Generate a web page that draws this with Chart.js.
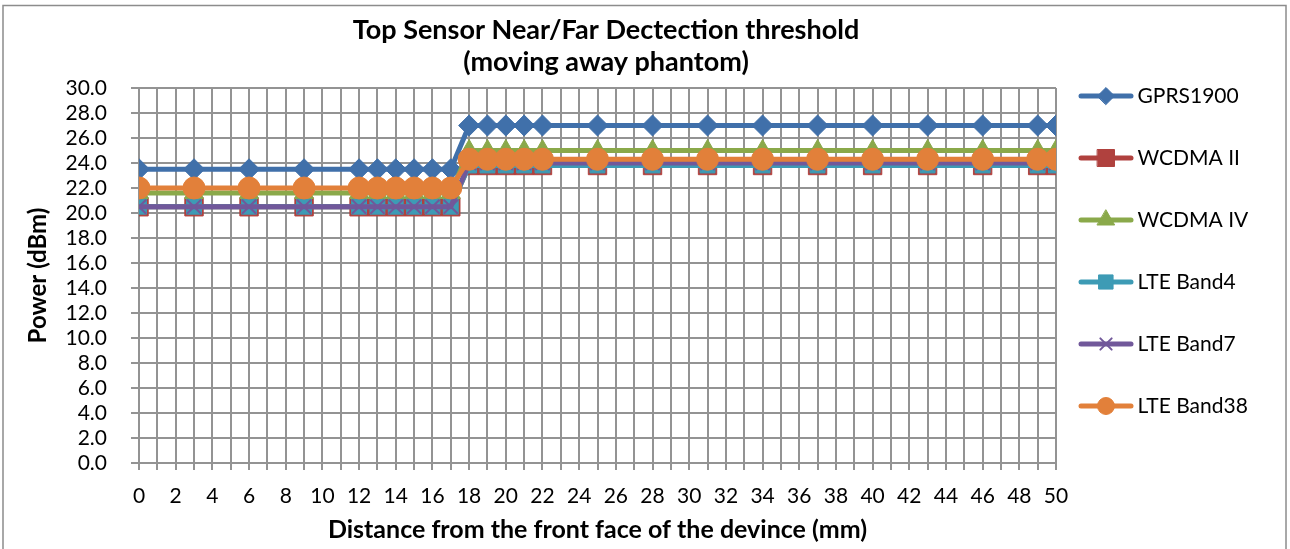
<!DOCTYPE html>
<html><head><meta charset="utf-8">
<script src="https://cdn.jsdelivr.net/npm/chart.js@4.4.1/dist/chart.umd.min.js"></script>
<style>html,body{margin:0;padding:0;background:#fff}#wrap{width:1290px;height:549px}</style>
</head><body><div id="wrap"><canvas id="c" width="1290" height="549"></canvas></div>
<script>
// ---- data ----
const distances = [0, 3, 6, 9, 12, 13, 14, 15, 16, 17, 18, 19, 20, 21, 22, 25, 28, 31, 34, 37, 40, 43, 46, 49, 50];
const seriesNames = ['GPRS1900', 'WCDMA II', 'WCDMA IV', 'LTE Band4', 'LTE Band7', 'LTE Band38'];
const gprs1900  = [23.5, 23.5, 23.5, 23.5, 23.5, 23.5, 23.5, 23.5, 23.5, 23.5, 27.0, 27.0, 27.0, 27.0, 27.0, 27.0, 27.0, 27.0, 27.0, 27.0, 27.0, 27.0, 27.0, 27.0, 27.0];
const wcdmaII   = [20.5, 20.5, 20.5, 20.5, 20.5, 20.5, 20.5, 20.5, 20.5, 20.5, 23.8, 23.8, 23.8, 23.8, 23.8, 23.8, 23.8, 23.8, 23.8, 23.8, 23.8, 23.8, 23.8, 23.8, 23.8];
const wcdmaIV   = [21.6, 21.6, 21.6, 21.6, 21.6, 21.6, 21.6, 21.6, 21.6, 21.6, 25.0, 25.0, 25.0, 25.0, 25.0, 25.0, 25.0, 25.0, 25.0, 25.0, 25.0, 25.0, 25.0, 25.0, 25.0];
const lteBand4  = [20.5, 20.5, 20.5, 20.5, 20.5, 20.5, 20.5, 20.5, 20.5, 20.5, 23.8, 23.8, 23.8, 23.8, 23.8, 23.8, 23.8, 23.8, 23.8, 23.8, 23.8, 23.8, 23.8, 23.8, 23.8];
const lteBand7  = [20.5, 20.5, 20.5, 20.5, 20.5, 20.5, 20.5, 20.5, 20.5, 20.5, 24.0, 24.0, 24.0, 24.0, 24.0, 24.0, 24.0, 24.0, 24.0, 24.0, 24.0, 24.0, 24.0, 24.0, 24.0];
const lteBand38 = [22.0, 22.0, 22.0, 22.0, 22.0, 22.0, 22.0, 22.0, 22.0, 22.0, 24.3, 24.3, 24.3, 24.3, 24.3, 24.3, 24.3, 24.3, 24.3, 24.3, 24.3, 24.3, 24.3, 24.3, 24.3];
const allSeries = [gprs1900, wcdmaII, wcdmaIV, lteBand4, lteBand7, lteBand38];
const xMin = 0, xMax = 50, xStep = 1, xLabelEvery = 2;
const yMin = 0, yMax = 30, yStep = 2;
const chartTitle = ['Top Sensor Near/Far Dectection threshold', '(moving away phantom)'];
const xTitle = 'Distance from the front face of the devince (mm)';
const yTitle = 'Power (dBm)';

// ---- styles ----
const FONT = 'Lato';
const colors = ['#4070AA', '#B0413E', '#8AA94A', '#3D9BB5', '#71589A', '#E2803A'];
const markers = [
  {style: 'rectRot', r: 10.5, lr: 8.5},
  {style: 'rect', r: 13, lr: 12},
  {style: 'triangle', r: 11, lr: 10},
  {style: 'rect', r: 10.5, lr: 10},
  {style: 'crossRot', r: 10, lr: 8},
  {style: 'circle', r: 11, lr: 8.5}
];

function legendIcon(i) {
  const c = document.createElement('canvas');
  c.width = 68; c.height = 26;
  const ctx = c.getContext('2d');
  ctx.strokeStyle = colors[i]; ctx.fillStyle = colors[i];
  ctx.lineWidth = 5; ctx.lineCap = 'round';
  ctx.beginPath(); ctx.moveTo(3, 13); ctx.lineTo(53, 13); ctx.stroke();
  const m = markers[i];
  ctx.lineWidth = m.style === 'crossRot' ? 2 : 1;
  Chart.helpers.drawPoint(ctx, {pointStyle: m.style, radius: m.lr, borderWidth: ctx.lineWidth, rotation: 0}, 28, 13);
  return c;
}

const gridColor = '#939393';
const datasets = seriesNames.map((name, i) => ({
  label: name,
  data: distances.map((d, k) => ({x: d, y: allSeries[i][k]})),
  borderColor: colors[i],
  backgroundColor: colors[i],
  borderWidth: 5,
  borderJoinStyle: 'round',
  borderCapStyle: 'round',
  pointStyle: markers[i].style,
  pointRadius: markers[i].r,
  pointBorderWidth: markers[i].style === 'crossRot' ? 2 : 1,
  pointBorderColor: colors[i],
  pointBackgroundColor: colors[i],
  tension: 0,
  order: seriesNames.length - i
}));

const framePlugin = {
  id: 'frame',
  beforeDraw(chart) {
    const ctx = chart.ctx;
    ctx.save();
    ctx.fillStyle = '#fff';
    ctx.fillRect(0, 0, chart.width, chart.height);
    ctx.strokeStyle = '#8c8c8c';
    ctx.lineWidth = 1.5;
    ctx.strokeRect(3, 5.5, 1283, 600);
    ctx.restore();
  },
  afterLayout(chart) {
    // let the legend box reach the right edge so its labels are not clipped
    const lg = chart.legend;
    if (lg) { lg.right = chart.width; lg.width = lg.right - lg.left; }
  }
};

new Chart(document.getElementById('c'), {
  type: 'line',
  data: {datasets},
  plugins: [framePlugin],
  options: {
    responsive: false,
    animation: false,
    devicePixelRatio: 1,
    layout: {padding: {left: 6, right: 84, top: 0, bottom: 0}},
    plugins: {
      tooltip: {enabled: false},
      title: {
        display: true,
        text: chartTitle,
        color: '#000',
        font: {family: FONT, size: 27, weight: 'bold', lineHeight: 1.2},
        padding: {top: 13.8, bottom: 9.4}
      },
      legend: {
        position: 'right',
        align: 'start',
        maxWidth: 150,
        title: {display: true, text: '', font: {size: 10, lineHeight: 1.2}, padding: {top: 32.5, bottom: 0}},
        labels: {
          color: '#000',
          font: {family: FONT, size: 21},
          usePointStyle: true,
          pointStyleWidth: 30,
          padding: 41,
          sort: (a, b) => a.datasetIndex - b.datasetIndex,
          generateLabels(chart) {
            const items = Chart.defaults.plugins.legend.labels.generateLabels(chart);
            items.forEach(it => { it.pointStyle = legendIcon(it.datasetIndex); });
            return items;
          }
        }
      }
    },
    scales: {
      x: {
        type: 'linear',
        min: xMin, max: xMax,
        afterFit(s) { s.height = 86; },
        border: {color: gridColor, width: 2},
        grid: {color: gridColor, lineWidth: 2, tickLength: 7, tickColor: gridColor},
        ticks: {
          stepSize: xStep, autoSkip: false, maxRotation: 0, padding: 14,
          color: '#000', font: {family: FONT, size: 21},
          callback: v => (v % xLabelEvery === 0 ? String(v) : '')
        },
        title: {display: true, text: xTitle, color: '#000', font: {family: FONT, size: 25, weight: 'bold', lineHeight: 1.2}, padding: {top: 0, bottom: 4}}
      },
      y: {
        min: yMin, max: yMax,
        afterFit(s) { s.width = 133; },
        border: {color: gridColor, width: 2},
        grid: {color: gridColor, lineWidth: 2, tickLength: 8, tickColor: gridColor},
        ticks: {
          stepSize: yStep, autoSkip: false, padding: 24, color: '#000', font: {family: FONT, size: 21, lineHeight: 1.0},
          callback: v => v.toFixed(1)
        },
        title: {display: true, text: yTitle, color: '#000', font: {family: FONT, size: 24, weight: 'bold', lineHeight: 1.2}, padding: {top: 18, bottom: 0}}
      }
    }
  }
});
</script>
</body></html>
